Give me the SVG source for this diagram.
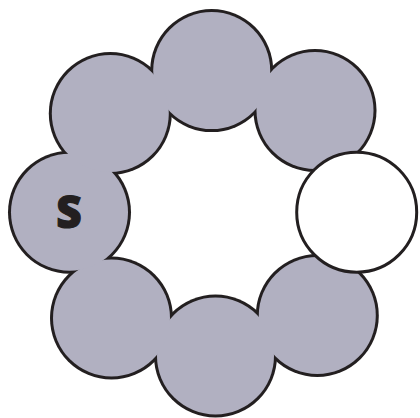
<svg xmlns="http://www.w3.org/2000/svg" width="420" height="418" viewBox="0 0 420 418">
<style>
.edge{fill:#231f20}
.gray{fill:#b1b0c1}
.white{fill:#ffffff;stroke:#231f20;stroke-width:3}
.lbl{font-family:"Open Sans","Liberation Sans",sans-serif;font-weight:800;font-size:44px;fill:#231f20;stroke:#231f20;stroke-width:1.2}
</style>
<g id="outline">
<circle class="edge" cx="211.7" cy="70.6" r="61.5"/>
<circle class="edge" cx="315" cy="110.5" r="61.5"/>
<circle class="edge" cx="317.3" cy="315.5" r="61.5"/>
<circle class="edge" cx="215.5" cy="356" r="61.5"/>
<circle class="edge" cx="111.5" cy="318" r="61.5"/>
<circle class="edge" cx="69.5" cy="212.3" r="61.5"/>
<circle class="edge" cx="110.3" cy="113.5" r="61.5"/>
</g>
<g id="n-top"><circle class="gray" cx="211.7" cy="70.6" r="58.5"/></g>
<g id="n-topright"><circle class="gray" cx="315" cy="110.5" r="58.5"/></g>
<g id="n-bottomright"><circle class="gray" cx="317.3" cy="315.5" r="58.5"/></g>
<g id="n-bottom"><circle class="gray" cx="215.5" cy="356" r="58.5"/></g>
<g id="n-bottomleft"><circle class="gray" cx="111.5" cy="318" r="58.5"/></g>
<g id="n-left"><circle class="gray" cx="69.5" cy="212.3" r="58.5"/><text class="lbl" x="69" y="228" text-anchor="middle">S</text></g>
<g id="n-topleft"><circle class="gray" cx="110.3" cy="113.5" r="58.5"/></g>
<g id="n-right"><circle class="white" cx="356.7" cy="212.2" r="60"/></g>
<g id="connectors"/>
</svg>
